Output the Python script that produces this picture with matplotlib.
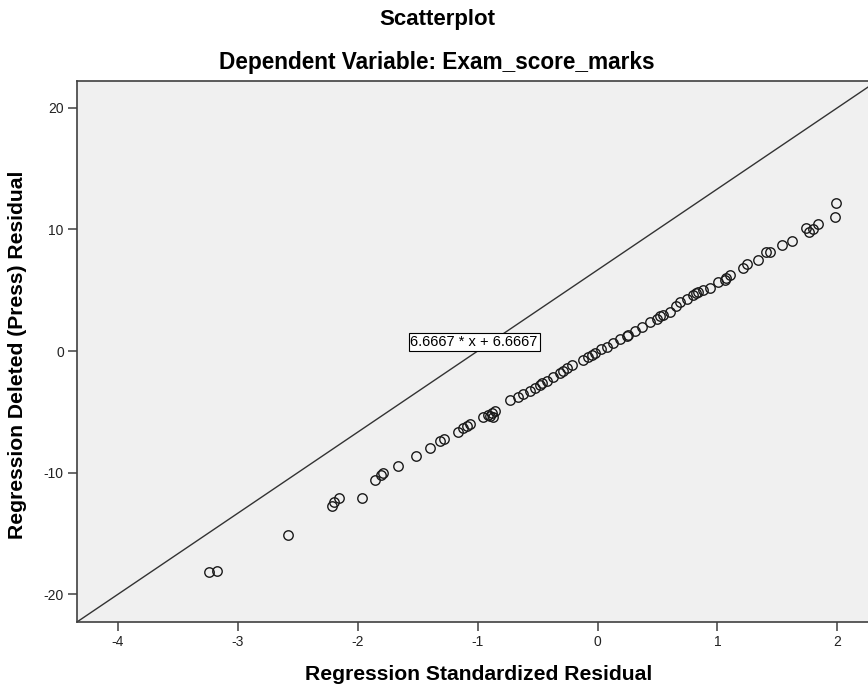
import matplotlib.pyplot as plt
import numpy as np

# values
std_resid = [-3.237, -3.175, -2.583, -2.217, -2.197, -2.153, -1.964, -1.856,
             -1.805, -1.790, -1.662, -1.517, -1.395, -1.314, -1.281, -1.162,
             -1.120, -1.092, -1.064, -0.953, -0.912, -0.883, -0.856, -0.870,
             -0.731, -0.662, -0.620, -0.564, -0.523, -0.481, -0.425, -0.370,
             -0.314, -0.290, -0.258, -0.217, -0.120, -0.078, -0.023, 0.033,
             0.075, 0.130, 0.186, 0.242, 0.311, 0.367, 0.436, 0.492,
             0.547, 0.603, 0.658, 0.686, 0.742, 0.797, 0.838, 0.880,
             0.936, 1.005, 1.075, 1.103, 1.213, 1.242, 1.338, 1.408,
             1.436, 1.542, 1.625, 1.736, 1.763, 1.797, 1.838, 1.978,
             1.992, -0.900, -0.460, 0.520, 0.820, 0.250, -0.050, 1.060]
press_resid = [-18.18, -18.10, -15.12, -12.71, -12.38, -12.10, -12.05, -10.62,
               -10.15, -10.05, -9.42, -8.65, -7.97, -7.37, -7.23, -6.63,
               -6.30, -6.14, -6.02, -5.45, -5.26, -5.12, -4.91, -5.40,
               -4.03, -3.76, -3.56, -3.29, -3.02, -2.79, -2.47, -2.11,
               -1.83, -1.62, -1.37, -1.15, -0.74, -0.52, -0.19, 0.14,
               0.35, 0.68, 0.96, 1.26, 1.64, 2.00, 2.41, 2.63,
               2.96, 3.23, 3.70, 4.00, 4.27, 4.60, 4.82, 5.01,
               5.20, 5.65, 5.97, 6.25, 6.84, 7.12, 7.48, 8.11,
               8.16, 8.71, 9.06, 10.13, 9.80, 10.00, 10.44, 11.04,
               12.19, -5.35, -2.65, 2.85, 4.75, 1.35, -0.35, 5.85]

slope = 6.6667
intercept = 6.6667
xlim = (-4.34, 2.33)
ylim = (-22.27, 22.2)

plt.rcParams['font.family'] = ['Liberation Sans', 'DejaVu Sans']
plt.rcParams['axes.unicode_minus'] = False

fig = plt.figure(figsize=(8.68, 6.9), dpi=100)
ax = fig.add_axes([77 / 868, 68 / 690, 800 / 868, 541 / 690])
ax.set_facecolor('#f0f0f0')

ax.plot(std_resid, press_resid, 'o', mfc='none', mec='#1a1a1a', ms=6.8, mew=1.0)

lx = np.array(xlim)
ax.plot(lx, slope * lx + intercept, color='#333333', lw=1.0)

ax.text(-1.56, 0.74, '6.6667 * x + 6.6667', fontsize=10.5, va='center', ha='left',
        bbox=dict(boxstyle='square,pad=0.12', fc='white', ec='black', lw=0.8))

ax.set_xlim(xlim)
ax.set_ylim(ylim)
ax.set_xticks([-4, -3, -2, -1, 0, 1, 2])
ax.set_yticks([-20, -10, 0, 10, 20])
ax.tick_params(direction='out', length=6.5, width=1.1, color='#404040',
               labelsize=10, pad=3, labelcolor='#222222')
for s in ax.spines.values():
    s.set_color('#404040')
    s.set_linewidth(1.2)

fig.text(437 / 868, 1 - 20 / 690, 'Scatterplot', fontsize=16, fontweight='bold',
         ha='center', va='center')
fig.text(437 / 868, 1 - 63 / 690, 'Dependent Variable: Exam_score_marks', fontsize=16.3,
         fontweight='bold', ha='center', va='center')
fig.text(479 / 868, 1 - 675 / 690, 'Regression Standardized Residual', fontsize=15.2,
         fontweight='bold', ha='center', va='center')
fig.text(18 / 868, 1 - 355 / 690, 'Regression Deleted (Press) Residual', fontsize=15.2,
         fontweight='bold', ha='center', va='center', rotation=90)

fig.savefig('out.png', dpi=100)
